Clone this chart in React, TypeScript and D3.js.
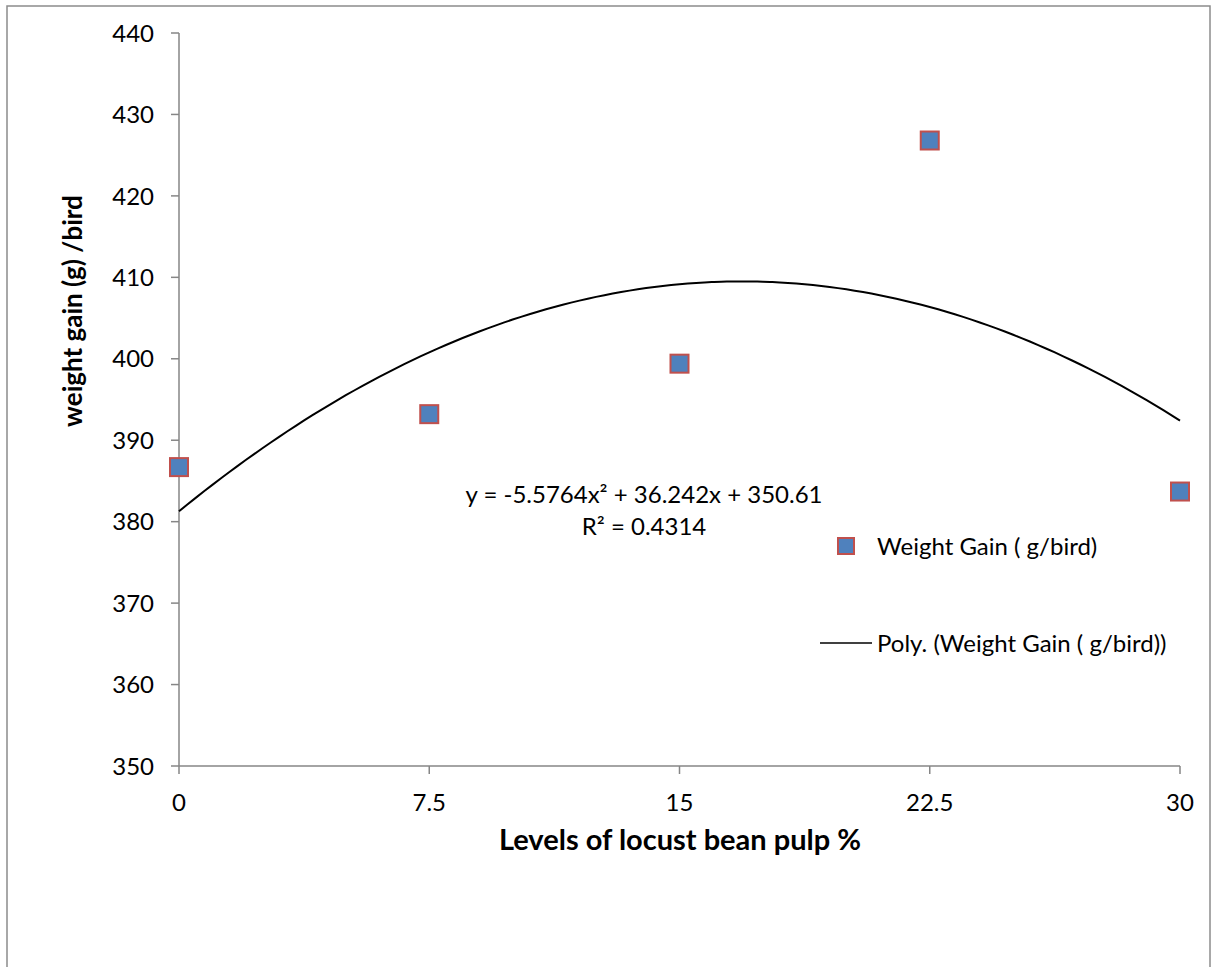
import React from 'react'
import * as d3 from 'd3'

// Levels of locust bean pulp (%) and weight gain (g/bird)
const levels = [0, 7.5, 15, 22.5, 30]
const weightGain = [386.7, 393.2, 399.4, 426.8, 383.7]

const xTicks = [0, 7.5, 15, 22.5, 30]
const yTicks = [350, 360, 370, 380, 390, 400, 410, 420, 430, 440]

// Excel polynomial trendline (x = point index 1..5)
const trendCoef = [-5.5764, 36.242, 350.61]
const trendLabel = ['y = -5.5764x² + 36.242x + 350.61', 'R² = 0.4314']

const seriesName = 'Weight Gain ( g/bird)'
const trendName = 'Poly. (Weight Gain ( g/bird))'

const W = 1212
const H = 967
const font = 'Lato, "Open Sans", sans-serif'

export default function App() {
    const margin = { top: 33, right: 32, bottom: 201, left: 179 }

    const x = d3.scaleLinear().domain([0, 30]).range([margin.left, W - margin.right])
    const y = d3.scaleLinear().domain([350, 440]).range([H - margin.bottom, margin.top])

    const step = levels[1] - levels[0]
    const trendPts = d3.range(0, 30.01, 0.25).map(p => {
        const i = p / step + 1
        return [p, trendCoef[0] * i * i + trendCoef[1] * i + trendCoef[2]] as [number, number]
    })
    const line = d3.line<[number, number]>().x(d => x(d[0])).y(d => y(d[1])).curve(d3.curveMonotoneX)

    const axisColor = '#868686'
    const y0 = y(350)
    const mk = 18

    return (
        <svg width={W} height={H} style={{ position: 'absolute', left: 0, top: 0 }} fontFamily={font}>
            <rect x={0} y={0} width={W} height={H} fill="#fff" />
            <rect x={7} y={6} width={1203} height={975} fill="none" stroke="#8c8c8c" strokeWidth={1.5} />

            {/* y axis */}
            <line x1={x(0)} x2={x(0)} y1={y(440)} y2={y0} stroke={axisColor} strokeWidth={1.5} />
            {yTicks.map(t => (
                <g key={t}>
                    <line x1={x(0) - 8} x2={x(0)} y1={y(t)} y2={y(t)} stroke={axisColor} strokeWidth={1.5} />
                    <text x={x(0) - 25} y={y(t)} dy="0.36em" textAnchor="end" fontSize={24} fill="#000">{t}</text>
                </g>
            ))}

            {/* x axis */}
            <line x1={x(0)} x2={x(30)} y1={y0} y2={y0} stroke={axisColor} strokeWidth={1.5} />
            {xTicks.map(t => (
                <g key={t}>
                    <line x1={x(t)} x2={x(t)} y1={y0} y2={y0 + 8} stroke={axisColor} strokeWidth={1.5} />
                    <text x={x(t)} y={y0 + 45} textAnchor="middle" fontSize={24} fill="#000">{t}</text>
                </g>
            ))}

            {/* axis titles */}
            <text x={680} y={y0 + 84} textAnchor="middle" fontSize={29} fontWeight="bold" fill="#000">
                Levels of locust bean pulp %
            </text>
            <text transform={`translate(82,311) rotate(-90)`} textAnchor="middle" fontSize={26} fontWeight="bold" fill="#000">
                weight gain (g) /bird
            </text>

            {/* trendline */}
            <path d={line(trendPts) || ''} fill="none" stroke="#000" strokeWidth={2} />

            {/* points */}
            {levels.map((l, i) => (
                <rect key={l} x={x(l) - mk / 2} y={y(weightGain[i]) - mk / 2} width={mk} height={mk}
                    fill="#4F81BD" stroke="#C0504D" strokeWidth={2} />
            ))}

            {/* trendline equation */}
            <text textAnchor="middle" fontSize={24} fill="#000">
                <tspan x={644} y={503}>{trendLabel[0]}</tspan>
                <tspan x={644} y={535}>{trendLabel[1]}</tspan>
            </text>

            {/* legend */}
            <rect x={846 - 8} y={546 - 8} width={16} height={16} fill="#4F81BD" stroke="#C0504D" strokeWidth={2} />
            <text x={877} y={555} fontSize={24} fill="#000">{seriesName}</text>
            <line x1={820} x2={872} y1={643} y2={643} stroke="#000" strokeWidth={1.5} />
            <text x={877} y={652} fontSize={24} fill="#000">{trendName}</text>
        </svg>
    )
}
